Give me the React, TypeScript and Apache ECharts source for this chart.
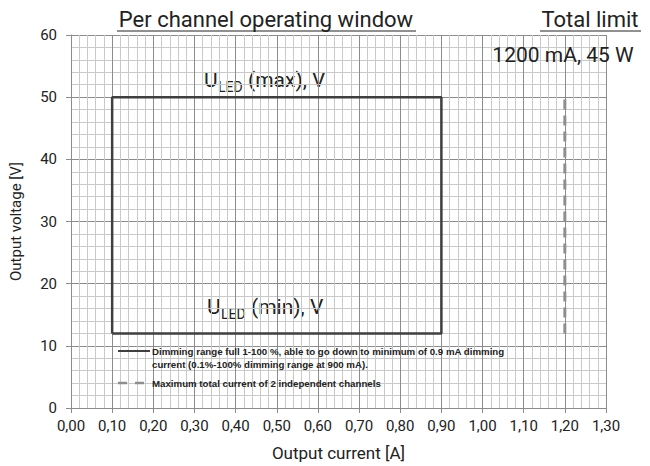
import React, { useEffect, useRef } from "react";
import * as echarts from "echarts";

const xTicks = [0, 0.1, 0.2, 0.3, 0.4, 0.5, 0.6, 0.7, 0.8, 0.9, 1.0, 1.1, 1.2, 1.3];
const windowCurrent = [0.1, 0.1, 0.9, 0.9, 0.1];
const windowVoltage = [12, 50, 50, 12, 12];
const limitCurrent = [1.2, 1.2];
const limitVoltage = [12, 50];
const legendSolid = [
  "Dimming range full 1-100 %, able to go down to minimum of 0.9 mA dimming",
  "current (0.1%-100% dimming range at 900 mA).",
];
const legendDashed = "Maximum total current of 2 independent channels";

const FONT = "Roboto";

export default function App() {
  const ref = useRef<HTMLDivElement>(null);
  useEffect(() => {
    if (!ref.current) return;
    const chart = echarts.init(ref.current, null, { renderer: "svg" });
    const major = "#8c8c8c";
    const minor = "#c9c9c9";
    const txt = "#222";
    const dashCol = "#8e8e8e";
    const legendText = (x: number, y: number, s: string) => ({
      type: "text",
      x,
      y,
      style: { text: s, font: `bold 9.7px "Liberation Sans"`, fill: txt, textVerticalAlign: "middle" },
      z: 10,
    });
    const uled = (x: number, y: number, tail: string) => ({
      type: "group",
      x,
      y,
      z: 10,
      children: [
        { type: "text", x: 0, y: 0, style: { text: "U", font: `21px ${FONT}`, fill: txt, textVerticalAlign: "bottom" } },
        { type: "text", x: 14, y: 4, style: { text: "LED", font: `14px ${FONT}`, fill: txt, textVerticalAlign: "bottom" } },
        { type: "text", x: 44, y: 0, style: { text: tail, font: `21px ${FONT}`, fill: txt, textVerticalAlign: "bottom" } },
      ],
    });
    chart.setOption({
      animation: false,
      backgroundColor: "#fff",
      grid: { left: 66, right: 44, top: 35, bottom: 57 },
      xAxis: {
        type: "value",
        min: 0,
        max: 1.3,
        interval: 0.1,
        name: "Output current [A]",
        nameLocation: "middle",
        nameGap: 36,
        nameTextStyle: { fontFamily: FONT, fontSize: 17, color: txt },
        axisLine: { show: true, lineStyle: { color: major, width: 1 } },
        axisTick: { show: true, length: 5, lineStyle: { color: major } },
        axisLabel: {
          fontFamily: FONT,
          fontSize: 15,
          color: txt,
          margin: 10,
          formatter: (v: number) => {
            const m = xTicks.find((t) => Math.abs(t - v) < 1e-6);
            return (m ?? v).toFixed(2).replace(".", ",");
          },
        },
        splitLine: { show: true, lineStyle: { color: major, width: 1 } },
        minorTick: { show: false, splitNumber: 5 },
        minorSplitLine: { show: true, lineStyle: { color: minor, width: 1 } },
      },
      yAxis: {
        type: "value",
        min: 0,
        max: 60,
        interval: 10,
        name: "Output voltage [V]",
        nameLocation: "middle",
        nameGap: 48,
        nameTextStyle: { fontFamily: FONT, fontSize: 15, color: txt },
        axisLine: { show: true, lineStyle: { color: major, width: 1 } },
        axisTick: { show: true, length: 5, lineStyle: { color: major } },
        axisLabel: { fontFamily: FONT, fontSize: 15, color: txt, margin: 14 },
        splitLine: { show: true, lineStyle: { color: major, width: 1 } },
        minorTick: { show: false, splitNumber: 5 },
        minorSplitLine: { show: true, lineStyle: { color: minor, width: 1 } },
      },
      series: [
        {
          type: "line",
          name: "window",
          data: windowCurrent.map((c, i) => [c, windowVoltage[i]]),
          showSymbol: false,
          symbol: "none",
          lineStyle: { color: "#3f3f3f", width: 2.5 },
          z: 5,
        },
        {
          type: "line",
          name: "limit",
          data: limitCurrent.map((c, i) => [c, limitVoltage[i]]),
          showSymbol: false,
          symbol: "none",
          lineStyle: { color: dashCol, width: 3, type: [10, 6] },
          z: 5,
        },
      ],
      graphic: [
        { type: "text", x: 266, y: 19, style: { text: "Per channel operating window", font: `22px ${FONT}`, fill: txt, textAlign: "center", textVerticalAlign: "middle" } },
        { type: "line", shape: { x1: 117, y1: 31, x2: 416, y2: 31 }, style: { stroke: txt, lineWidth: 1 } },
        { type: "text", x: 590, y: 19, style: { text: "Total limit", font: `22px ${FONT}`, fill: txt, textAlign: "center", textVerticalAlign: "middle" } },
        { type: "line", shape: { x1: 540, y1: 31, x2: 641, y2: 31 }, style: { stroke: txt, lineWidth: 1 } },
        { type: "text", x: 563, y: 55, z: 10, style: { text: "1200 mA, 45 W", font: `21px ${FONT}`, fill: txt, textAlign: "center", textVerticalAlign: "middle" } },
        uled(204, 90, "(max), V"),
        uled(207, 317, "(min), V"),
        { type: "line", z: 10, shape: { x1: 118, y1: 351, x2: 150, y2: 351 }, style: { stroke: "#3f3f3f", lineWidth: 2 } },
        legendText(152, 351, legendSolid[0]),
        legendText(152, 364, legendSolid[1]),
        { type: "line", z: 10, shape: { x1: 118, y1: 383, x2: 150, y2: 383 }, style: { stroke: dashCol, lineWidth: 2.5, lineDash: [9, 8] } },
        legendText(152, 383, legendDashed),
      ],
    });
    return () => chart.dispose();
  }, []);
  return <div ref={ref} style={{ position: "absolute", left: 0, top: 0, width: 650, height: 466 }} />;
}
